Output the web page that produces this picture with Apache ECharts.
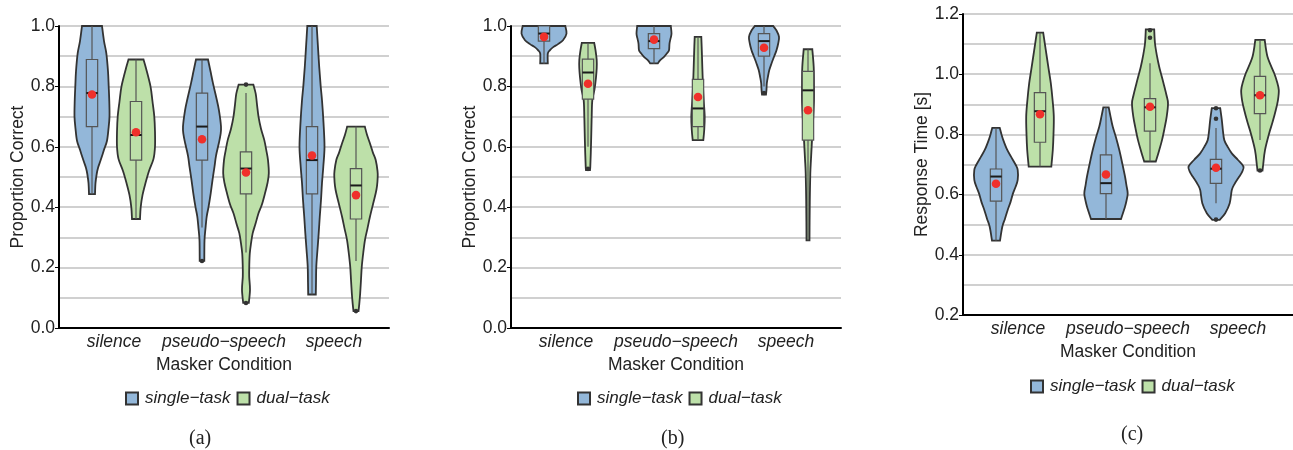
<!DOCTYPE html>
<html>
<head>
<meta charset="utf-8">
<script src="https://cdn.jsdelivr.net/npm/echarts@6/dist/echarts.min.js"></script>
<style>
  html, body { margin: 0; padding: 0; background: #fff; }
  #chart { width: 1293px; height: 450px; }
</style>
</head>
<body>
<div id="chart"></div>
<script>
// categories on every x axis
const categories = ['silence', 'pseudo\u2212speech', 'speech']
const groups = ['single\u2212task', 'dual\u2212task']

// violin outlines: [value, density] from top to bottom, one list per category
// (a) proportion correct
const aSingleShape = [
  [[1.0, 10], [0.95, 12], [0.91, 14.3], [0.85, 16], [0.80, 16.7], [0.75, 17.3], [0.70, 17.5], [0.66, 16.5], [0.62, 15], [0.59, 12], [0.556, 8.7], [0.53, 6], [0.51, 4.7], [0.48, 3.5], [0.443, 3]],
  [[0.889, 6], [0.85, 8.5], [0.81, 11], [0.76, 14.5], [0.72, 17], [0.667, 19], [0.64, 18.5], [0.61, 16.7], [0.57, 14], [0.534, 12.5], [0.49, 10.5], [0.446, 8.7], [0.40, 6.5], [0.369, 4.7], [0.33, 3.5], [0.29, 2.5], [0.222, 2.3]],
  [[1.0, 4.7], [0.94, 5.8], [0.865, 7.2], [0.80, 8.7], [0.754, 10], [0.68, 11.5], [0.60, 12.5], [0.534, 11.3], [0.48, 10], [0.424, 9], [0.37, 7.8], [0.314, 6.7], [0.26, 5.5], [0.204, 4.3], [0.15, 4], [0.111, 3.8]]
]
const aDualShape = [
  [[0.889, 7.5], [0.86, 10], [0.80, 14.5], [0.75, 16.5], [0.70, 18.3], [0.65, 19], [0.60, 19], [0.56, 17.5], [0.52, 13], [0.48, 9.5], [0.44, 6.5], [0.40, 4.7], [0.361, 4]],
  [[0.806, 7.3], [0.776, 9.7], [0.74, 11], [0.70, 12.5], [0.66, 15], [0.622, 18.3], [0.585, 20.5], [0.556, 22], [0.512, 22.8], [0.48, 21.5], [0.446, 19], [0.41, 16], [0.38, 12.5], [0.345, 9.5], [0.314, 6.7], [0.28, 5], [0.248, 3.8], [0.21, 3.3], [0.171, 3.2], [0.127, 4], [0.083, 2.8]],
  [[0.667, 8.8], [0.64, 11], [0.611, 14], [0.58, 17], [0.556, 19.7], [0.52, 21.5], [0.50, 21.7], [0.47, 21], [0.446, 19.7], [0.41, 17], [0.369, 14], [0.33, 11.5], [0.292, 9], [0.25, 7.3], [0.204, 5.8], [0.16, 5], [0.116, 4.2], [0.08, 3.3], [0.056, 2.5]]
]
// boxes: [low whisker, q1, median, q3, high whisker]
const aSingleBox = [[0.443, 0.667, 0.778, 0.889, 1.0], [0.333, 0.556, 0.667, 0.778, 0.889], [0.111, 0.444, 0.556, 0.667, 1.0]]
const aDualBox = [[0.361, 0.556, 0.639, 0.75, 0.889], [0.25, 0.444, 0.528, 0.583, 0.778], [0.222, 0.361, 0.472, 0.528, 0.667]]
const aSingleMean = [0.773, 0.625, 0.571]
const aDualMean = [0.648, 0.515, 0.44]
const aSingleOut = [[], [0.222], []]
const aDualOut = [[], [0.083, 0.806], [0.056]]

// (b) proportion correct
const bSingleShape = [
  [[1.0, 21.3], [0.975, 22.5], [0.953, 19], [0.94, 14], [0.93, 9.2], [0.92, 6], [0.909, 3.8], [0.876, 3.8]],
  [[1.0, 16.8], [0.975, 17.5], [0.958, 16.5], [0.942, 15.5], [0.92, 15], [0.91, 13], [0.898, 10], [0.886, 6], [0.876, 3.8]],
  [[1.0, 9.2], [0.985, 12.5], [0.964, 15], [0.942, 14.2], [0.92, 12.5], [0.898, 10], [0.876, 7.5], [0.854, 5.3], [0.83, 3.8], [0.81, 2.8], [0.79, 2.5], [0.773, 2]]
]
const bDualShape = [
  [[0.944, 6.2], [0.92, 7.5], [0.887, 8.7], [0.86, 8.7], [0.83, 8], [0.79, 6.5], [0.754, 4.3], [0.70, 3.7], [0.644, 3.3], [0.58, 2.8], [0.534, 2.3], [0.523, 2]],
  [[0.964, 3.3], [0.92, 3.8], [0.865, 4.3], [0.80, 5], [0.754, 5.7], [0.70, 6.7], [0.655, 6.2], [0.622, 5.3]],
  [[0.923, 4.3], [0.865, 5.7], [0.80, 6], [0.754, 6], [0.70, 5.3], [0.622, 4], [0.56, 3], [0.512, 2.3], [0.42, 1.8], [0.35, 1.6], [0.29, 1.5]]
]
const bSingleBox = [[0.875, 0.95, 0.975, 1.0, 1.0], [0.875, 0.925, 0.95, 0.975, 1.0], [0.8, 0.9, 0.95, 0.975, 1.0]]
const bDualBox = [[0.6, 0.758, 0.846, 0.89, 0.944], [0.625, 0.667, 0.727, 0.823, 0.964], [0.29, 0.622, 0.787, 0.85, 0.923]]
const bSingleMean = [0.964, 0.955, 0.928]
const bDualMean = [0.809, 0.765, 0.721]
const bSingleOut = [[], [], [0.778]]
const bDualOut = [[0.527], [], []]

// (c) response time
const cSingleShape = [
  [[0.822, 3.7], [0.80, 5.5], [0.781, 7.3], [0.75, 11], [0.726, 15], [0.70, 19.5], [0.682, 21.7], [0.649, 21.7], [0.625, 19.5], [0.604, 17], [0.575, 14.5], [0.549, 11.7], [0.52, 9], [0.493, 6.3], [0.447, 4]],
  [[0.89, 2.7], [0.86, 4.5], [0.826, 6.7], [0.79, 10], [0.748, 13.3], [0.70, 16.5], [0.66, 19], [0.63, 20.5], [0.604, 21.7], [0.58, 20.5], [0.56, 19], [0.519, 15]],
  [[0.887, 4.2], [0.848, 5.8], [0.81, 7], [0.781, 8.3], [0.76, 11.5], [0.737, 15.8], [0.715, 22], [0.693, 27.5], [0.675, 26], [0.66, 23.3], [0.635, 18.5], [0.615, 15.8], [0.571, 13.7], [0.538, 9.2], [0.516, 3.7]]
]
const cDualShape = [
  [[1.138, 3.2], [1.08, 5.8], [1.02, 8.5], [0.97, 10.8], [0.91, 12.7], [0.859, 13.8], [0.80, 13.5], [0.748, 12.8], [0.693, 11.3]],
  [[1.149, 4.2], [1.102, 5], [1.06, 7], [1.025, 9.2], [0.97, 13.5], [0.93, 16.5], [0.903, 18], [0.859, 16.7], [0.82, 14.5], [0.781, 12], [0.745, 9], [0.71, 5.8]],
  [[1.114, 4.7], [1.058, 7.5], [1.003, 14.2], [0.975, 17], [0.947, 18.8], [0.915, 18], [0.881, 15.8], [0.84, 12.5], [0.804, 9.2], [0.748, 5], [0.70, 3.2], [0.68, 2.5]]
]
const cSingleBox = [[0.447, 0.578, 0.66, 0.685, 0.822], [0.519, 0.603, 0.638, 0.732, 0.89], [0.571, 0.637, 0.686, 0.717, 0.821]]
const cDualBox = [[0.693, 0.774, 0.877, 0.939, 1.138], [0.71, 0.811, 0.89, 0.919, 1.036], [0.781, 0.869, 0.93, 0.993, 1.114]]
const cSingleMean = [0.636, 0.667, 0.689]
const cDualMean = [0.867, 0.892, 0.93]
const cSingleOut = [[], [], [0.517, 0.852, 0.887]]
const cDualOut = [[], [1.121, 1.146], [0.68]]

const BLUE = '#93b7d9'
const GREEN = '#bde0a9'
const EDGE = '#333333'
const FS = 17.5

// catmull-rom -> bezier segments through the points
function curve(pts) {
  let d = ''
  for (let j = 0; j < pts.length - 1; j++) {
    const p0 = pts[j - 1] || pts[j]
    const p1 = pts[j]
    const p2 = pts[j + 1]
    const p3 = pts[j + 2] || p2
    const c1 = [p1[0] + (p2[0] - p0[0]) / 6, p1[1] + (p2[1] - p0[1]) / 6]
    const c2 = [p2[0] - (p3[0] - p1[0]) / 6, p2[1] - (p3[1] - p1[1]) / 6]
    d += ' C' + c1.join(' ') + ' ' + c2.join(' ') + ' ' + p2.join(' ')
  }
  return d
}

function violinSeries(name, idx, side, color, shapes, boxes, means, outs) {
  return {
    type: 'custom',
    name: name,
    xAxisIndex: idx,
    yAxisIndex: idx,
    silent: true,
    itemStyle: { color: color, borderColor: EDGE, borderWidth: 1.5 },
    data: categories.map((c, i) => [i, means[i]]),
    renderItem(params, api) {
      const i = params.dataIndex
      const band = api.size([1, 0])[0]
      const k = band / 110
      const cx = api.coord([i, means[i]])[0] + side * band * 0.2
      const yOf = v => api.coord([i, v])[1]
      const shape = shapes[i]
      const left = shape.map(p => [cx - p[1] * k, yOf(p[0])])
      const right = shape.map(p => [cx + p[1] * k, yOf(p[0])]).reverse()
      const path = 'M' + left[0].join(' ') + curve(left) + ' L' + right[0].join(' ') + curve(right) + ' Z'
      const b = boxes[i]
      const bw = band * 0.103
      const children = [
        { type: 'path', shape: { pathData: path }, style: { fill: color, stroke: EDGE, lineWidth: 1.8 } },
        { type: 'line', shape: { x1: cx, y1: yOf(b[0]), x2: cx, y2: yOf(b[4]) }, style: { stroke: '#555', lineWidth: 1.2 } },
        { type: 'rect', shape: { x: cx - bw / 2, y: yOf(b[3]), width: bw, height: yOf(b[1]) - yOf(b[3]) }, style: { fill: color, stroke: '#555', lineWidth: 1.2 } },
        { type: 'line', shape: { x1: cx - bw / 2, y1: yOf(b[2]), x2: cx + bw / 2, y2: yOf(b[2]) }, style: { stroke: '#1a1a1a', lineWidth: 2 } }
      ]
      outs[i].forEach(v => {
        children.push({ type: 'circle', shape: { cx: cx, cy: yOf(v), r: 2.3 }, style: { fill: '#333' } })
      })
      children.push({ type: 'circle', shape: { cx: cx, cy: yOf(means[i]), r: 4.3 }, style: { fill: '#f0302b' } })
      return { type: 'group', children: children }
    }
  }
}

const gridLine = { color: '#d0d0d0', width: 2 }

function yAxis(idx, name, min, max, gap) {
  return {
    gridIndex: idx,
    type: 'value',
    min: min,
    max: max,
    interval: 0.2,
    name: name,
    nameLocation: 'middle',
    nameGap: gap,
    nameTextStyle: { fontSize: FS, color: '#222' },
    axisLine: { show: true, lineStyle: { color: '#000', width: 2 } },
    axisTick: { show: true, length: 4, lineStyle: { color: '#000' } },
    axisLabel: { fontSize: FS, color: '#222', margin: 4, formatter: v => v.toFixed(1) },
    splitLine: { show: true, lineStyle: gridLine },
    minorTick: { show: false, splitNumber: 2 },
    minorSplitLine: { show: true, lineStyle: gridLine }
  }
}

function xAxis(idx) {
  return {
    gridIndex: idx,
    type: 'category',
    data: categories,
    name: 'Masker Condition',
    nameLocation: 'middle',
    nameGap: 25,
    nameTextStyle: { fontSize: FS, color: '#222' },
    axisLine: { lineStyle: { color: '#000', width: 2 } },
    axisTick: { alignWithLabel: true, length: 3, lineStyle: { color: '#bbb' } },
    axisLabel: { interval: 0, fontSize: FS, fontStyle: 'italic', color: '#222', margin: 5 }
  }
}

function legend(left, top) {
  return {
    data: groups,
    left: left,
    top: top,
    icon: 'rect',
    itemWidth: 12,
    itemHeight: 12,
    itemGap: 6,
    selectedMode: false,
    textStyle: { fontSize: 17, fontStyle: 'italic', color: '#222', padding: [0, 0, 0, 2] }
  }
}

function caption(text, x, y) {
  return {
    type: 'text',
    left: x,
    top: y,
    style: { text: text, font: '20px "Liberation Serif"', fill: '#222', align: 'center' }
  }
}

const chart = echarts.init(document.getElementById('chart'), null, { renderer: 'canvas' })

chart.setOption({
  animation: false,
  textStyle: { fontFamily: 'Liberation Sans' },
  grid: [
    { left: 59, right: 904, top: 26, bottom: 122 },
    { left: 511, right: 452, top: 26, bottom: 122 },
    { left: 963, right: 0, top: 14, bottom: 135 }
  ],
  xAxis: [xAxis(0), xAxis(1), xAxis(2)],
  yAxis: [
    yAxis(0, 'Proportion Correct', 0, 1, 30),
    yAxis(1, 'Proportion Correct', 0, 1, 30),
    yAxis(2, 'Response Time [s]', 0.2, 1.2, 26)
  ],
  legend: [legend(120, 385), legend(572, 385), legend(1025, 373)],
  graphic: [
    caption('(a)', 189, 429),
    caption('(b)', 661, 429),
    caption('(c)', 1121, 425)
  ],
  series: [
    violinSeries(groups[0], 0, -1, BLUE, aSingleShape, aSingleBox, aSingleMean, aSingleOut),
    violinSeries(groups[1], 0, 1, GREEN, aDualShape, aDualBox, aDualMean, aDualOut),
    violinSeries(groups[0], 1, -1, BLUE, bSingleShape, bSingleBox, bSingleMean, bSingleOut),
    violinSeries(groups[1], 1, 1, GREEN, bDualShape, bDualBox, bDualMean, bDualOut),
    violinSeries(groups[0], 2, -1, BLUE, cSingleShape, cSingleBox, cSingleMean, cSingleOut),
    violinSeries(groups[1], 2, 1, GREEN, cDualShape, cDualBox, cDualMean, cDualOut)
  ]
})
</script>
</body>
</html>
